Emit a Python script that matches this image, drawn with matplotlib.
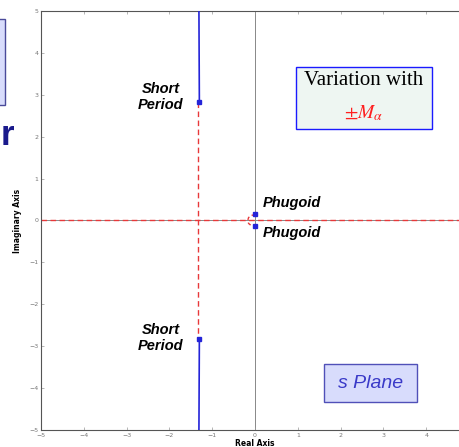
import matplotlib.pyplot as plt
from matplotlib.patches import Rectangle

# root locus data
sp_upper_blue_x = [-1.30, -1.31]
sp_upper_blue_y = [2.84, 5.0]
sp_lower_blue_x = [-1.30, -1.31]
sp_lower_blue_y = [-2.83, -5.0]
sp_red_x = [-1.33, -1.33]
sp_red_y = [2.84, -2.83]
real_red_x = [-5.0, 5.0]
real_red_y = [0.0, 0.0]
ph_arc_x = [0.0, -0.09, -0.15, -0.17, -0.15, -0.09, 0.0]
ph_arc_y = [0.14, 0.12, 0.07, 0.0, -0.07, -0.12, -0.14]
pole_x = [-1.30, -1.30, 0.0, 0.0]
pole_y = [2.84, -2.83, 0.15, -0.13]

xticks = [-5, -4, -3, -2, -1, 0, 1, 2, 3, 4]
yticks = [-5, -4, -3, -2, -1, 0, 1, 2, 3, 4, 5]

W, H = 460, 447
fig = plt.figure(figsize=(W / 100, H / 100), dpi=100)
ax = fig.add_axes([41 / W, 17 / H, 428 / W, 419 / H])

blue = '#2424d8'
red = '#e8383a'

ax.axvline(0, color='#888888', lw=0.7, zorder=1)
ax.axhline(0, color='#888888', lw=0.7, zorder=1)
ax.plot(real_red_x, real_red_y, color=red, lw=1.0, ls=(0, (4, 2.5)), zorder=2)
ax.plot(sp_red_x, sp_red_y, color=red, lw=1.0, ls=(0, (4, 2.5)), zorder=2)
ax.plot(ph_arc_x, ph_arc_y, color=red, lw=1.0, ls=(0, (2.5, 2)), zorder=2)
ax.plot(sp_upper_blue_x, sp_upper_blue_y, color=blue, lw=1.2, zorder=3)
ax.plot(sp_lower_blue_x, sp_lower_blue_y, color=blue, lw=1.2, zorder=3)
ax.plot(pole_x, pole_y, 's', color=blue, ms=2.5, zorder=4)

ax.set_xlim(-5, 5)
ax.set_ylim(-5, 5)
ax.set_xticks(xticks)
ax.set_yticks(yticks)
ax.tick_params(direction='in', length=2.5, width=0.5, labelsize=4.5,
               labelcolor='#777777', color='#999999', top=True, right=True, pad=2)
for s in ax.spines.values():
    s.set_color('#555555')
    s.set_linewidth(0.8)

ax.set_xlabel('Real Axis', fontsize=5.5, fontweight='bold', labelpad=1)
ax.set_ylabel('Imaginary Axis', fontsize=5.5, fontweight='bold', labelpad=5)

# helper: pixel -> data coords (ref picture measurements)
def px(x, y):
    return (x - 255.3) / 42.8, (220.5 - y) / 41.9

sans = 'Liberation Sans'
lbl = dict(fontsize=10.5, fontweight='bold', fontstyle='italic', family=sans,
           ha='center', va='center', linespacing=1.2)
ax.text(*px(161, 97), 'Short\nPeriod', **lbl)
ax.text(*px(161, 338), 'Short\nPeriod', **lbl)
ph = dict(fontsize=10.5, fontweight='bold', fontstyle='italic', family=sans,
          ha='left', va='center')
ax.text(*px(263, 203), 'Phugoid', **ph)
ax.text(*px(263, 233), 'Phugoid', **ph)

# "Variation with" box
ax.add_patch(Rectangle(px(296, 129), 136 / 42.8, 62 / 41.9, facecolor='#eef6f2',
                       edgecolor='#1a1aff', lw=1.0, zorder=5))
ax.text(*px(364, 81), 'Variation with', fontsize=15, family='Liberation Serif',
        ha='center', va='center', zorder=6)
ax.text(*px(364, 113), r'$\pm M_{\alpha}$', fontsize=14, color='#ff2020',
        ha='center', va='center', zorder=6, math_fontfamily='stix')

# "s Plane" box
ax.add_patch(Rectangle(px(324, 402), 93 / 42.8, 38 / 41.9, facecolor='#d8dcfc',
                       edgecolor='#5050b8', lw=1.0, zorder=5))
ax.text(*px(370.5, 383), 's Plane', fontsize=14, fontstyle='italic', family=sans,
        color='#3a3ac8', ha='center', va='center', zorder=6)

# clipped slide pieces at the left edge
fig.patches.append(Rectangle((-0.05, 1 - 105 / H), 0.05 + 5 / W, 86 / H,
                             transform=fig.transFigure, facecolor='#d8dcfc',
                             edgecolor='#4a4a9a', lw=1.0))
fig.text(0.5 / W, 1 - 145 / H, 'r', fontsize=25, fontweight='bold', family=sans,
         color='#1a1a8c', ha='left', va='baseline')

fig.savefig('out.png', dpi=100)
